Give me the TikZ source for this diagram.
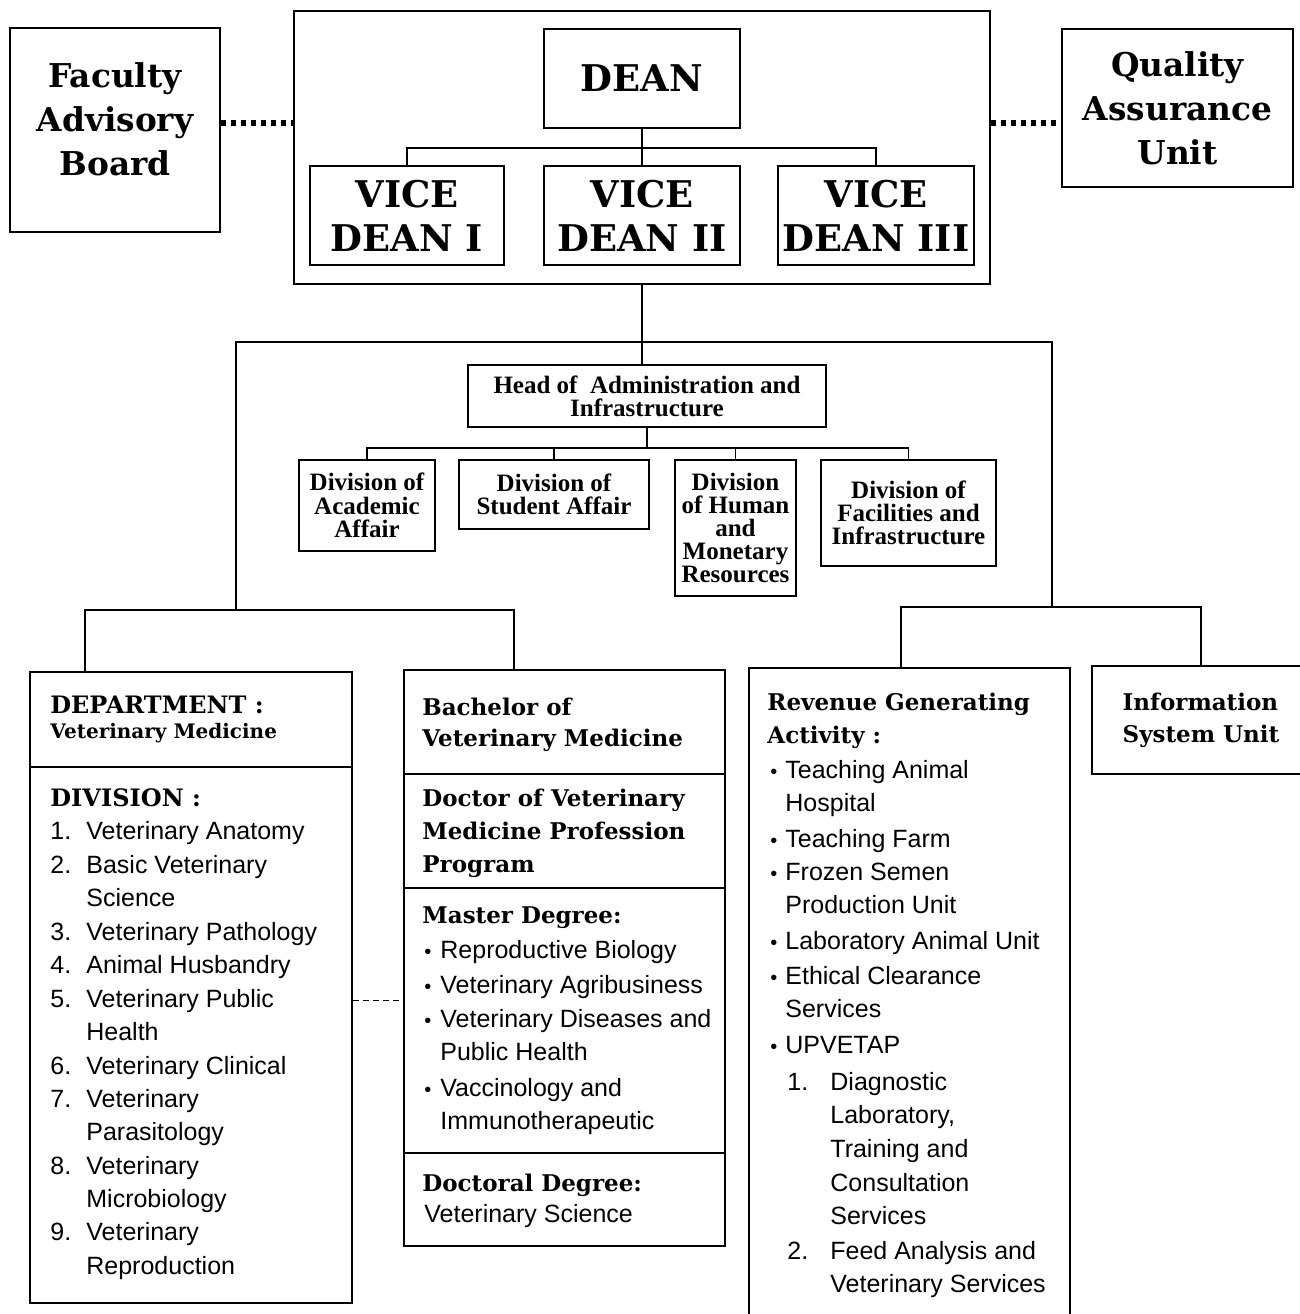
\documentclass[tikz,border=0pt]{standalone}
\usepackage{fontspec}
\setmainfont{Liberation Sans}
\newfontfamily\heavyserif{DejaVu Serif}
\newfontfamily\narrowserif{Liberation Serif}
\usetikzlibrary{positioning,calc}
\tikzset{
  % plain framed box of the chart
  orgbox/.style  = {draw, line width=0.8pt, inner sep=0pt, align=center},
  big/.style     = {font=\heavyserif\bfseries\fontsize{16.4}{22}\selectfont},
  vice/.style    = {font=\heavyserif\bfseries\fontsize{18.4}{22}\selectfont},
  narrow/.style  = {font=\narrowserif\bfseries\fontsize{12.5}{11.6}\selectfont},
  hdr/.style     = {inner sep=0pt, anchor=base west,
                    font=\heavyserif\bfseries\fontsize{11.5}{14}\selectfont},
  itm/.style     = {inner sep=0pt, anchor=base west, font=\fontsize{12.5}{16}\selectfont},
  blt/.style     = {inner sep=0pt, anchor=base west, font=\fontsize{10}{12}\selectfont},
  link/.style    = {line width=0.8pt},
  dotlink/.style = {line width=3pt, dash pattern=on 2.6pt off 2.4pt},
  dashlink/.style= {line width=0.5pt, dash pattern=on 3pt off 2pt},
}
\begin{document}
\begin{tikzpicture}[x=0.5pt,y=-0.5pt]
\clip (0,0) rectangle (1300,1314);
\fill[white] (0,0) rectangle (1300,1314);
% dean block
\node[orgbox, minimum width=348pt, minimum height=136.5pt] (deanbox) at (642,147.5) {};
\node[orgbox, vice, minimum width=98pt, minimum height=49.5pt] (dean) at (642,78.5) {DEAN};
\node[orgbox, vice, minimum width=97pt, minimum height=49.5pt] (vd1) at (407,215.5) {VICE\\DEAN I};
\node[orgbox, vice, minimum width=98pt, minimum height=49.5pt] (vd2) at (642,215.5) {VICE\\DEAN II};
\node[orgbox, vice, minimum width=98pt, minimum height=49.5pt] (vd3) at (876,215.5) {VICE\\DEAN III};
\node[orgbox, minimum width=105pt, minimum height=102pt] (fab) at (115,130) {};
\node[big, align=center, inner sep=0pt] (fabt) at (115,119) {Faculty\\Advisory\\Board};
\node[orgbox, big, minimum width=115.5pt, minimum height=79pt] (qau) at (1177.5,108) {Quality\\Assurance\\Unit};
\coordinate (vbus) at (642,148);
\draw[link] (dean) -- (vd2);
\draw[link] (vd1.north) |- (vbus) -| (vd3.north);
\coordinate (lnk) at (0,123);
\draw[dotlink] (fab.east |- lnk) -- (deanbox.west |- lnk);
\draw[dotlink] (deanbox.east |- lnk) -- (qau.west |- lnk);

% administration
\node[orgbox, narrow, minimum width=179pt, minimum height=31pt] (head) at (647,396) {Head of~ Administration and\\Infrastructure};
\node[orgbox, narrow, minimum width=68pt, minimum height=45.5pt] (dacad) at (367,505.5) {Division of\\Academic\\Affair};
\node[orgbox, narrow, minimum width=95pt, minimum height=34.5pt] (dstud) at (554,494.5) {Division of\\Student Affair};
\node[orgbox, narrow, minimum width=60.5pt, minimum height=68pt] (dhum) at (735.5,528) {Division\\of Human\\and\\Monetary\\Resources};
\node[orgbox, narrow, minimum width=87.5pt, minimum height=53pt] (dfac) at (908.5,513) {Division of\\Facilities and\\Infrastructure};
\coordinate (mbus) at (642,342);
\coordinate (lbus) at (236,610);
\coordinate (rbus) at (1052,607);
\coordinate (hbus) at (647,448);
\draw[link] (deanbox.south) -- (mbus);
\draw[link] (lbus) |- (mbus) -| (rbus);
\draw[link] (mbus) -- (mbus |- head.north);
\draw[link] (head.south) -- (hbus);
\draw[link] (dacad.north) |- (hbus) -| (dfac.north);
\draw[link] (dstud.north) -- (dstud.north |- hbus);
\draw[link] (dhum.north) -- (dhum.north |- hbus);

% lower boxes
\node[orgbox, minimum width=161pt, minimum height=315.5pt] (dept) at (191,987.5) {};
\node[orgbox, minimum width=160.5pt, minimum height=288pt] (deg) at (564.5,958) {};
\node[orgbox, minimum width=160.5pt, minimum height=331pt] (rev) at (909.5,999) {};
\node[orgbox, minimum width=109pt, minimum height=54pt, align=left,
      font=\heavyserif\bfseries\fontsize{11.5}{16}\selectfont] (info) at (1201,720) {Information\\System Unit};
\draw[link] ([xshift=28pt]dept.north west) |- (lbus) -| ([xshift=55.5pt]deg.north west);
\draw[link] ([xshift=76.5pt]rev.north west) |- (rbus) -| (info.north);
\coordinate (dlk) at (0,1000);
\draw[dashlink] (dept.east |- dlk) -- (deg.west |- dlk);
\draw[link] (30,767) -- (352,767);
\foreach \y in {774,888,1153}
  \draw[link] (404,\y) -- (725,\y);

% department
\node[hdr, font=\heavyserif\bfseries\fontsize{12}{14}\selectfont] (deph) at (50,713) {DEPARTMENT :};
\node[hdr, font=\heavyserif\bfseries\fontsize{10}{12}\selectfont] (deps) at (50,738) {Veterinary Medicine};
\node[hdr, font=\heavyserif\bfseries\fontsize{12}{14}\selectfont] (divh) at (50,806) {DIVISION :};
\foreach \n/\y in {1/839,2/873,3/940,4/973,5/1007,6/1074,7/1107,8/1174,9/1240}
  \node[itm] (dn\n) at (50,\y) {\n.};
\foreach \y/\t [count=\i] in {839/Veterinary Anatomy,873/Basic Veterinary,906/Science,
    940/Veterinary Pathology,973/Animal Husbandry,1007/Veterinary Public,1040/Health,
    1074/Veterinary Clinical,1107/Veterinary,1140/Parasitology,1174/Veterinary,
    1207/Microbiology,1240/Veterinary,1274/Reproduction}
  \node[itm] (dv\i) at (86,\y) {\t};

% degrees
\foreach \y/\t [count=\i] in {715/Bachelor of,746/Veterinary Medicine,806/Doctor of Veterinary,
    839/Medicine Profession,872/Program,923/Master Degree:,1191/Doctoral Degree:}
  \node[hdr] (gh\i) at (422,\y) {\t};
\foreach \y in {958,993,1027,1096}
  \node[blt] at (424,\y) {\textbullet};
\foreach \y/\t [count=\i] in {958/Reproductive Biology,993/Veterinary Agribusiness,
    1027/Veterinary Diseases and,1060/Public Health,1096/Vaccinology and,1129/Immunotherapeutic}
  \node[itm] (gm\i) at (440,\y) {\t};
\node[itm] (gd) at (424,1222) {Veterinary Science};

% revenue
\node[hdr] (rh1) at (767,710) {Revenue Generating};
\node[hdr] (rh2) at (767,743) {Activity :};
\foreach \y in {778,847,880,949,984,1053}
  \node[blt] at (770,\y) {\textbullet};
\foreach \y/\t [count=\i] in {778/Teaching Animal,811/Hospital,847/Teaching Farm,
    880/Frozen Semen,913/Production Unit,949/Laboratory Animal Unit,
    984/Ethical Clearance,1017/Services,1053/UPVETAP}
  \node[itm] (ra\i) at (785,\y) {\t};
\node[itm] (rn1) at (787,1090) {1.};
\node[itm] (rn2) at (787,1259) {2.};
\foreach \y/\t [count=\i] in {1090/Diagnostic,1123/{Laboratory,},1157/Training and,
    1191/Consultation,1224/Services,1259/Feed Analysis and,1292/Veterinary Services}
  \node[itm] (rs\i) at (830,\y) {\t};
\end{tikzpicture}
\end{document}
